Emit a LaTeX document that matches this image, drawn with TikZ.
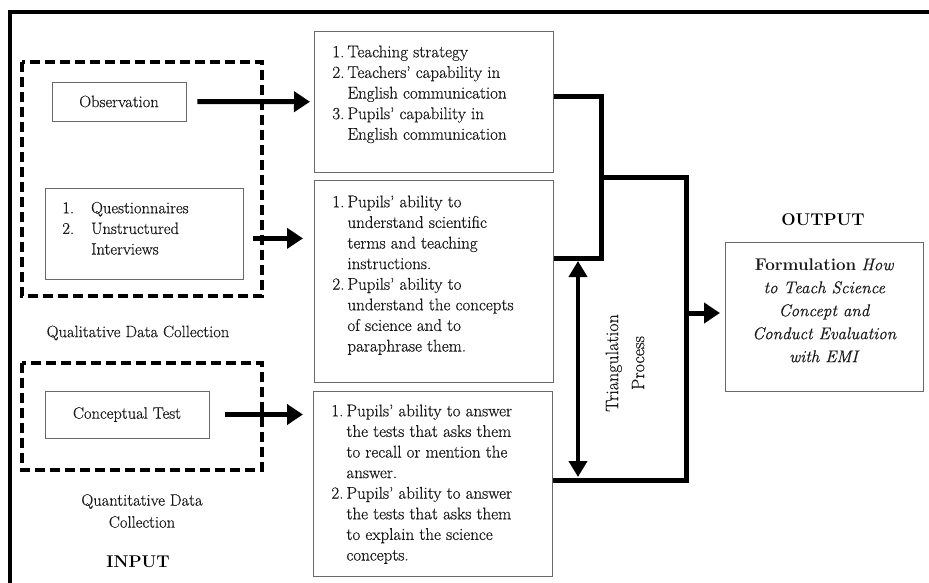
\documentclass[tikz,border=0pt]{standalone}
\usepackage{fontspec}
\setmainfont{Latin Modern Roman}[UprightFeatures={FakeBold=0.45},ItalicFeatures={FakeBold=0.45}]
\usepackage{tikz}
\usetikzlibrary{arrows.meta,calc}
\definecolor{boxgray}{RGB}{105,105,105}
\definecolor{inkdark}{RGB}{25,25,25}
% top-aligned numbered list inside a fixed box: width, height, top pad, left pad, label gap, rows
\newcommand{\toplist}[6]{\parbox[c][#2][t]{#1}{\vspace*{#3}\hspace*{#4}\begin{tabular}{@{}l@{\hspace{#5}}l@{}}#6\end{tabular}}}

\begin{document}
\begin{tikzpicture}[x=1pt,y=-1pt,
  >={Triangle[length=16pt,width=20pt]},
  srcbox/.style={draw=boxgray,line width=0.8pt,inner sep=0pt,font=\fontsize{16.5}{20.6}\selectfont,text=inkdark},
  finding/.style={draw=boxgray,line width=0.8pt,inner sep=0pt,anchor=north west,font=\fontsize{17}{20.6}\selectfont,text=inkdark},
  dashbox/.style={draw=black,line width=3.5pt,dash pattern=on 10pt off 5pt},
  caption/.style={font=\fontsize{16.5}{22}\selectfont,text=inkdark,align=center,inner sep=0pt},
  heading/.style={font=\fontsize{17}{20}\selectfont\bfseries,inner sep=0pt},
  ar/.style={->,line width=5pt},
  conn/.style={line width=5pt},
  twoway/.style={<->,line width=4pt,>={Triangle[length=16pt,width=18pt]}}
]
\useasboundingbox (0,0) rectangle (929,583);
% outer frame, cut off at right and bottom
\draw[line width=4pt] (10,583) -- (10,12) -- (929,12);

% INPUT side
\draw[dashbox] (22,62) rectangle (262,296);
\draw[dashbox] (22,363) rectangle (262,470);
\node[srcbox,minimum width=134pt,minimum height=39pt] (obs) at (119,101.5) {Observation};
\node[srcbox,anchor=north west] (quest) at (45,188) {\toplist{198pt}{91pt}{10.5pt}{17pt}{17pt}{%
1. & Questionnaires\\
2. & Unstructured\\
   & Interviews}};
\node[srcbox,minimum width=164pt,minimum height=47pt] (ctest) at (127,414.5) {Conceptual Test};
\node[caption] (qual) at (138,333) {Qualitative Data Collection};
\node[caption] (quan) at (142,511) {Quantitative Data\\Collection};
\node[heading] (input) at (138,562) {INPUT};

% findings
\node[finding] (teach) at (314,31) {\toplist{239pt}{141pt}{11.5pt}{18pt}{3pt}{%
1. & Teaching strategy\\
2. & Teachers' capability in\\
   & English communication\\
3. & Pupils' capability in\\
   & English communication}};
\node[finding] (scien) at (314,180) {\toplist{239pt}{202pt}{12.5pt}{18pt}{3pt}{%
1. & Pupils' ability to\\
   & understand scientific\\
   & terms and teaching\\
   & instructions.\\
2. & Pupils' ability to\\
   & understand the concepts\\
   & of science and to\\
   & paraphrase them.}};
\node[finding] (test) at (313,391) {\toplist{239pt}{185pt}{10.5pt}{18pt}{3pt}{%
1. & Pupils' ability to answer\\
   & the tests that asks them\\
   & to recall or mention the\\
   & answer.\\
2. & Pupils' ability to answer\\
   & the tests that asks them\\
   & to explain the science\\
   & concepts.}};

% OUTPUT side
\node[heading] (output) at (823,220) {OUTPUT};
\node[finding,font=\fontsize{17}{23}\selectfont] (out) at (725,242) {\parbox[c][149pt][t]{198pt}{\centering\vspace*{16pt}%
\textbf{Formulation} \textit{How}\\
\textit{to Teach Science}\\
\textit{Concept and}\\
\textit{Conduct Evaluation}\\
\textit{with EMI}}};
\node[caption,rotate=90,font=\fontsize{18}{26}\selectfont] (tri) at (625,363) {Triangulation\\Process};

% connectors
\coordinate (joint) at (601,177);
\coordinate (merge) at (686,313);
\coordinate (tritop) at (578,261);
\coordinate (tribot) at (578,477);
\draw[ar,shorten <=11pt,shorten >=4pt] (obs) -- (teach);
\draw[ar,shorten <=9pt,shorten >=11pt] ([yshift=-4.5pt]quest.east) -- ([yshift=-4.5pt]quest.east -| scien.west);
\draw[ar,shorten <=16pt,shorten >=10pt] (ctest.east) -- (ctest.east -| test.west);
\draw[conn] ([yshift=5.5pt]teach.east) -| (joint) |- ([yshift=23pt]scien.east);
\draw[conn] (joint) -| (merge) |- ([yshift=3.5pt]test.east);
\draw[twoway] (tritop) -- (tribot);
\draw[ar,shorten >=5pt] (merge) -- (merge -| out.west);
\end{tikzpicture}
\end{document}
